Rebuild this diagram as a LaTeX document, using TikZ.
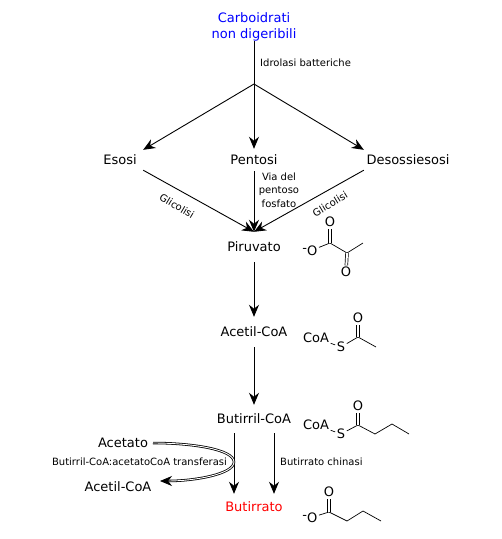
\documentclass[tikz,border=0pt]{standalone}
\usepackage{fontspec}
\setmainfont{DejaVu Sans}
\usetikzlibrary{arrows.meta,calc}
\tikzset{
  lab/.style={font=\fontsize{13}{15.5}\selectfont,inner sep=0pt,minimum height=#1,text height=9.5pt,text depth=0pt},
  lab/.default=26pt,
  small/.style={font=\fontsize{10}{13.5}\selectfont,inner sep=0pt,align=center,text=black},
  arr/.style={line width=0.9pt,-{Stealth[length=12pt,width=10pt]}},
  bond/.style={line width=0.7pt},
  atom/.style={font=\fontsize{13}{14}\selectfont,inner sep=1.5pt},
  dbond/.style={line width=0.7pt,double,double distance=2pt}
}
\begin{document}
\begin{tikzpicture}[x=1pt,y=-1pt]
\useasboundingbox (0,0) rectangle (502,539);
% main nodes
\node[font=\fontsize{13}{15.5}\selectfont,text=blue,align=center,inner sep=0pt] (carbo) at (254,27) {Carboidrati\\non digeribili};
\coordinate (hub) at (254,84);
\node[lab=20pt,minimum width=46pt] (eso) at (120,160) {Esosi};
\node[lab=22pt] (pen) at (254,160) {Pentosi};
\node[lab=20pt,minimum width=88pt] (des) at (408,160) {Desossiesosi};
\node[lab=30pt] (piru) at (254,247) {Piruvato};
\node[lab=30pt] (acet) at (254,332) {Acetil-CoA};
\node[lab=28pt] (but) at (254,419) {Butirril-CoA};
\node[lab=26pt,text=red] (bute) at (254,507) {Butirrato};
\node[lab=16pt] (ace) at (123,443) {Acetato};
\node[lab=16pt] (acoa) at (118,487) {Acetil-CoA};
% connectors
\draw[arr] (carbo.south) -- (pen.north);
\draw[arr] (hub) -- (eso.north east);
\draw[arr] (hub) -- (des.north west);
\draw[arr] (eso.south east) -- (piru.north);
\draw[arr] (pen.south) -- (piru.north);
\draw[arr] (des.south west) -- (piru.north);
\draw[arr] (piru.south) -- (acet.north);
\draw[arr] (acet.south) -- (but.north);
\draw[arr] ($(but.south)+(-20,0)$) -- ($(bute.north)+(-20,0)$);
\draw[arr] ($(but.south)+(20,0)$) -- ($(bute.north)+(20,0)$);
\draw[line width=0.8pt,double,double distance=0.9pt,-{Stealth[length=12pt,width=10pt]}]
  (153,443) .. controls (190,443) and (234,449) .. (234,462)
  .. controls (234,474) and (195,481) .. (160,481);
% labels
\node[small,anchor=west] (l1) at (260,63) {Idrolasi batteriche};
\node[small] (l2) at (279,190) {Via del\\pentoso\\fosfato};
\node[small,rotate=-31] (l3) at (177,206) {Glicolisi};
\node[small,rotate=31] (l4) at (330,204) {Glicolisi};
\node[small] (l5) at (139.5,462) {Butirril-CoA:acetatoCoA transferasi};
\node[small,anchor=west] (l6) at (280,462) {Butirrato chinasi};
% pyruvate
\node[atom,anchor=east] (po1) at (319,251) {\raisebox{3pt}{-}O};
\coordinate (pc1) at (330,243);
\coordinate (pc2) at (347,253);
\coordinate (pc3) at (363,243);
\node[atom] (po2) at (330,222) {O};
\node[atom] (po3) at (346,272) {O};
\draw[bond] (po1) -- (pc1) -- (pc2) -- (pc3);
\draw[dbond] (pc1) -- (po2);
\draw[dbond] (pc2) -- (po3);
% acetyl-CoA
\node[atom] (ac) at (316,338) {CoA};
\node[atom] (as) at (341,347) {S};
\coordinate (a1) at (358,337);
\coordinate (a2) at (376,347);
\node[atom] (ao) at (358,318) {O};
\draw[bond] (ac) -- (as) -- (a1) -- (a2);
\draw[dbond] (a1) -- (ao);
% butyryl-CoA
\node[atom] (bc) at (316,425) {CoA};
\node[atom] (bs) at (341,434) {S};
\coordinate (b1) at (358,425);
\coordinate (b2) at (375,434);
\coordinate (b3) at (392,424);
\coordinate (b4) at (409,434);
\node[atom] (bo) at (358,406) {O};
\draw[bond] (bc) -- (bs) -- (b1) -- (b2) -- (b3) -- (b4);
\draw[dbond] (b1) -- (bo);
% butyrate
\node[atom,anchor=east] (co1) at (319,518) {\raisebox{3pt}{-}O};
\coordinate (c1) at (329,512);
\coordinate (c2) at (347,521);
\coordinate (c3) at (363,511);
\coordinate (c4) at (381,521);
\node[atom] (co2) at (329,492) {O};
\draw[bond] (co1) -- (c1) -- (c2) -- (c3) -- (c4);
\draw[dbond] (c1) -- (co2);
\end{tikzpicture}
\end{document}
